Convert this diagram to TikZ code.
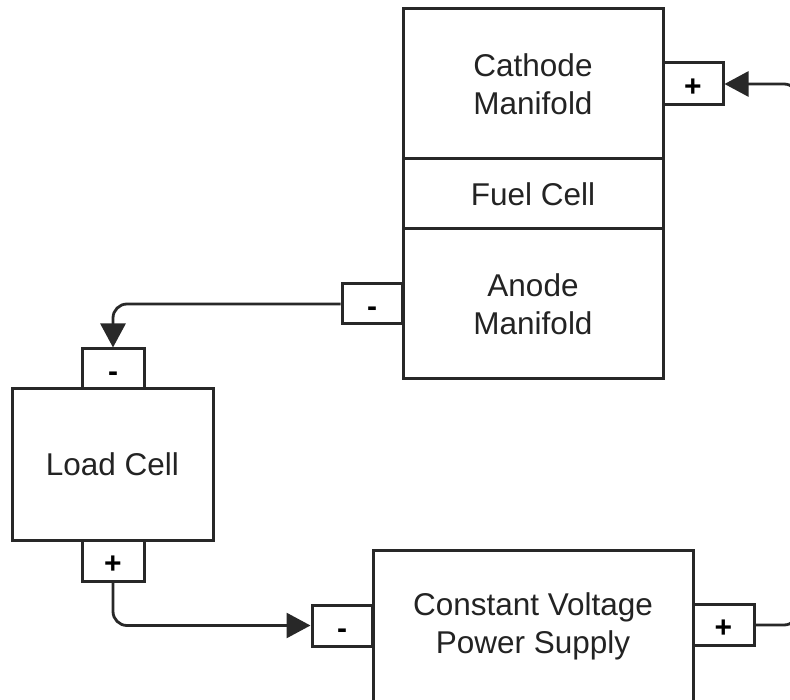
\documentclass[tikz,border=0pt]{standalone}
\usepackage{fontspec}
\setmainfont{Liberation Sans}
\usetikzlibrary{arrows.meta}
\definecolor{ink}{RGB}{40,40,40}
\definecolor{txt}{RGB}{35,35,35}
\newcommand{\termlabel}[1]{\raisebox{-5.5pt}[\height][\depth]{\bfseries\vphantom{Ag}#1}}
\begin{document}
\begin{tikzpicture}[x=1pt,y=-1pt,
  block/.style={draw=ink, line width=3pt, fill=white, rectangle, inner sep=0pt, align=center,
    font=\fontsize{31.5}{38}\selectfont, text=txt},
  term/.style={draw=ink, line width=3pt, fill=white, rectangle, inner sep=0pt,
    font=\fontsize{30}{36}\selectfont, text=black},
  wire/.style={draw=ink, line width=2.8pt, rounded corners=14pt},
  tip/.style={-{Triangle[length=24pt,width=25pt]}}
]
\useasboundingbox (0,0) rectangle (790,700);
\clip (0,0) rectangle (790,700);
% fuel cell stack
\node[block, minimum width=260pt, minimum height=150pt] (cath) at (533,84) {Cathode\\Manifold};
\node[block, minimum width=260pt, minimum height=70pt] (fuel) at (533,194) {Fuel Cell};
\node[block, minimum width=260pt, minimum height=150pt] (anode) at (533,304) {Anode\\Manifold};
\node[term, minimum width=60pt, minimum height=42pt] (cathplus) at (693,84) {\termlabel{+}};
\node[term, minimum width=60pt, minimum height=40pt] (anminus) at (372,304) {\termlabel{-}};
% load cell
\node[block, minimum width=201pt, minimum height=151pt] (load) at (112.5,464.5) {Load Cell};
\node[term, minimum width=62pt, minimum height=40pt] (loadminus) at (113,369) {\termlabel{-}};
\node[term, minimum width=62pt, minimum height=41pt] (loadplus) at (113,560.5) {\termlabel{+}};
% power supply
\node[block, minimum width=320pt, minimum height=152pt] (cvps) at (533,626) {Constant Voltage\\Power Supply};
\node[term, minimum width=60pt, minimum height=41pt] (cvminus) at (342,625.5) {\termlabel{-}};
\node[term, minimum width=61pt, minimum height=41pt] (cvplus) at (723.5,625) {\termlabel{+}};
% wires
\coordinate (rb) at (798,625);
\coordinate (rt) at (798,84);
\draw[wire, tip] (anminus.west) -| (loadminus.north);
\draw[wire, tip] (loadplus.south) |- (cvminus.west);
\draw[wire, tip] (cvplus.east) -- (rb) -- (rt) -- (cathplus.east);
\end{tikzpicture}
\end{document}
